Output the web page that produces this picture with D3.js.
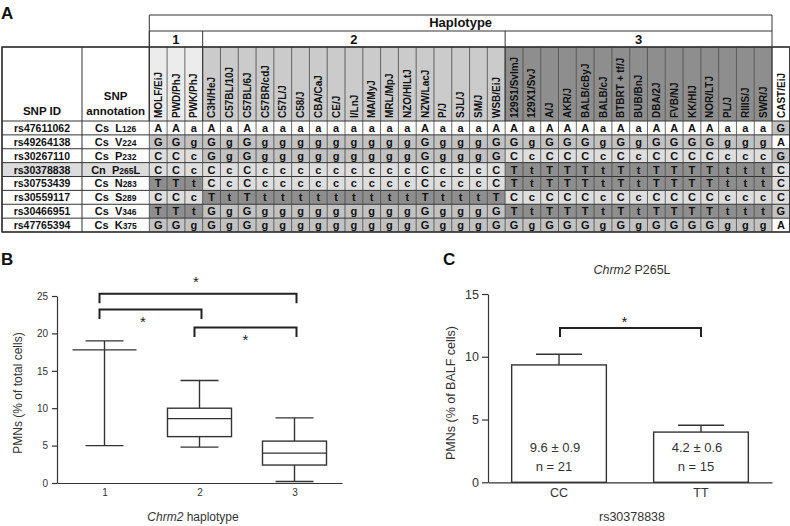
<!DOCTYPE html>
<html><head><meta charset="utf-8">
<script src="https://cdn.jsdelivr.net/npm/d3@7"></script>
<style>body{margin:0;background:#fff}svg{display:block;font-family:"Liberation Sans",Arial,Helvetica,sans-serif}</style>
</head><body><svg id="c" width="790" height="526"></svg>
<script>
// ---------- Panel A data ----------
const haplotype1 = ["MOLF/EiJ","PWD/PhJ","PWK/PhJ"];
const haplotype2 = ["C3H/HeJ","C57BL/10J","C57BL/6J","C57BR/cdJ","C57L/J","C58/J","CBA/CaJ","CE/J","I/LnJ","MA/MyJ","MRL/MpJ","NZO/HlLtJ","NZW/LacJ","P/J","SJL/J","SM/J","WSB/EiJ"];
const haplotype3 = ["129S1/SvImJ","129X1/SvJ","A/J","AKR/J","BALB/cByJ","BALB/cJ","BTBRT + tf/J","BUB/BnJ","DBA/2J","FVB/NJ","KK/HlJ","NOR/LTJ","PL/J","RIIIS/J","SWR/J"];
const outgroup = ["CAST/EiJ"];
const haplotypeLabels = ["1","2","3"];
const snpIds = ["rs47611062","rs49264138","rs30267110","rs30378838","rs30753439","rs30559117","rs30466951","rs47765394"];
const snpClass = ["Cs","Cs","Cs","Cn","Cs","Cs","Cs","Cs"];
const snpResidue = ["L","V","P","P","N","S","V","K"];
const snpPosition = ["126","224","232","265","283","289","346","375"];
const snpChange = ["","","","L","","","",""];
// one string per SNP: haplotype 1 | haplotype 2 | haplotype 3 | CAST
const genotypes = [
  "AAa AaAaaaaaaaaaAaaaA AaAAAaAaAAAAaaa G",
  "GGg GgGgggggggggGgggG GgGGGgGgGGGGggg A",
  "CCc GgGgggggggggGgggG CcCCCcCcCCCCccc G",
  "CCc CcCcccccccccCcccC TtTTTtTtTTTTttt C",
  "TTt CcCcccccccccCcccC TtTTTtTtTTTTttt C",
  "CCc TtTtttttttttTtttT CcCCCcCcCCCCccc C",
  "TTt GgGgggggggggGgggG TtTTTtTtTTTTttt G",
  "GGg GgGgggggggggGgggG GgGGGgGgGGGGggg A"
];

// ---------- Panel B data ----------
const haploCats = ["1","2","3"];
const boxLow  = [5.0, 4.8, 0.2];
const boxQ1   = [17.8, 6.2, 2.4];
const boxMed  = [17.8, 8.6, 4.0];
const boxQ3   = [17.8, 10.0, 5.6];
const boxHigh = [19.0, 13.7, 8.7];
const bTicks = [0,5,10,15,20,25];
const bSigFrom = ["1","1","2"];
const bSigTo   = ["3","2","3"];
const bSigLevel = [25.3, 23.2, 20.8];

// ---------- Panel C data ----------
const genoCats = ["CC","TT"];
const pmnMean = [9.35, 4.0];
const pmnErr  = [0.85, 0.55];
const meanLabels = ["9.6  \u00b1 0.9","4.2  \u00b1 0.6"];
const nLabels = ["n = 21","n = 15"];
const cTicks = [0,5,10,15];
const cSigLevel = 12.3;

const svg = d3.select("#c");
const ink = "#222";

// ================= PANEL A =================
const strains = haplotype1.concat(haplotype2, haplotype3, outgroup);
const strainGroup = haplotype1.map(()=>1).concat(haplotype2.map(()=>2), haplotype3.map(()=>3), outgroup.map(()=>0));
const xS = d3.scaleBand().domain(strains).range([149.3, 789.8]);
const yR = d3.scaleBand().domain(snpIds).range([121, 232]);
const yHap = 15, yGrp = 31, yHead = 47, yData = 121, yEnd = 232;
const xL0 = 2, xL1 = 82, xL2 = 149.3, xRight = 789.8;
const hapRight = xS("CAST/EiJ");
const headFill = {1:"#ececec", 2:"#cbcbcb", 3:"#8e8e8e", 0:"#ffffff"};
const alleleFill = {A:"#ffffff", C:"#dedede", G:"#c2c2c2", T:"#8e8e8e"};

const gA = svg.append("g");
gA.selectAll("rect.h").data(strains).join("rect")
  .attr("x", d=>xS(d)).attr("y", yHead).attr("width", xS.bandwidth()).attr("height", yData-yHead)
  .attr("fill", (d,i)=>headFill[strainGroup[i]]);
snpIds.forEach((id,r)=>{
  gA.append("rect").attr("x",xL0).attr("y",yR(id)).attr("width",xL2-xL0).attr("height",yR.bandwidth())
    .attr("fill", snpClass[r]==="Cn" ? "#dcdcdc" : "#fff");
});
const cells = [];
genotypes.forEach((s,r)=>{
  const chars = s.replace(/ /g,"").split("");
  chars.forEach((c,j)=>cells.push({id:snpIds[r], strain:strains[j], c}));
});
gA.selectAll("rect.c").data(cells).join("rect")
  .attr("x", d=>xS(d.strain)).attr("y", d=>yR(d.id)).attr("width", xS.bandwidth()).attr("height", yR.bandwidth())
  .attr("fill", d=>alleleFill[d.c.toUpperCase()]);
gA.selectAll("text.c").data(cells).join("text")
  .attr("x", d=>xS(d.strain)+xS.bandwidth()/2).attr("y", d=>yR(d.id)+yR.bandwidth()/2+4)
  .attr("text-anchor","middle").attr("font-size",11).attr("font-weight","bold").attr("fill","#111")
  .text(d=>d.c);

const gl = gA.append("g").attr("stroke","#333").attr("stroke-width",1);
[yHead].concat(snpIds.map(d=>yR(d)), [yEnd]).forEach(y=>{
  gl.append("line").attr("x1",xL0).attr("x2",xRight).attr("y1",y).attr("y2",y);
});
[xL0, xL1].forEach(x=>gl.append("line").attr("x1",x).attr("x2",x).attr("y1",yHead).attr("y2",yEnd));
strains.forEach(s=>gl.append("line").attr("x1",xS(s)).attr("x2",xS(s)).attr("y1",yHead).attr("y2",yEnd).attr("stroke-width",0.8).attr("stroke","#444"));
gl.append("line").attr("x1",xRight).attr("x2",xRight).attr("y1",yHead).attr("y2",yEnd);
[yHap, yGrp].forEach(y=>gl.append("line").attr("x1",xL2).attr("x2",hapRight).attr("y1",y).attr("y2",y));
[xL2, hapRight].forEach(x=>gl.append("line").attr("x1",x).attr("x2",x).attr("y1",yHap).attr("y2",yData));
const grpBounds = [[haplotype1[0], haplotype1[haplotype1.length-1]],[haplotype2[0], haplotype2[haplotype2.length-1]],[haplotype3[0], haplotype3[haplotype3.length-1]]];
grpBounds.forEach(([a,b],i)=>{
  const x0 = xS(a), x1 = xS(b)+xS.bandwidth();
  gl.append("line").attr("x1",x0).attr("x2",x0).attr("y1",yGrp).attr("y2",yData);
  gA.append("text").attr("x",(x0+x1)/2).attr("y",yGrp+12.5).attr("text-anchor","middle")
    .attr("font-size",13).attr("font-weight","bold").attr("fill","#111").text(haplotypeLabels[i]);
});
gA.append("text").attr("x",(xL2+hapRight)/2).attr("y",yHap+12).attr("text-anchor","middle")
  .attr("font-size",13).attr("font-weight","bold").attr("fill","#111").text("Haplotype");

gA.selectAll("text.s").data(strains).join("text")
  .attr("transform", d=>`translate(${xS(d)+xS.bandwidth()/2+3.6},${yData-3}) rotate(-90)`)
  .attr("font-size",10).attr("font-weight","bold").attr("fill","#111").text(d=>d);

gA.append("text").attr("x",(xL0+xL1)/2).attr("y",yData-6).attr("text-anchor","middle")
  .attr("font-size",11.5).attr("font-weight","bold").attr("fill","#111").text("SNP ID");
gA.append("text").attr("x",(xL1+xL2)/2).attr("y",yData-21).attr("text-anchor","middle")
  .attr("font-size",11.5).attr("font-weight","bold").attr("fill","#111").text("SNP");
gA.append("text").attr("x",(xL1+xL2)/2).attr("y",yData-6).attr("text-anchor","middle")
  .attr("font-size",11.5).attr("font-weight","bold").attr("fill","#111").text("annotation");

snpIds.forEach((id,r)=>{
  const yb = yR(id)+yR.bandwidth()/2+4;
  gA.append("text").attr("x",(xL0+xL1)/2).attr("y",yb).attr("text-anchor","middle")
    .attr("font-size",10.5).attr("font-weight","bold").attr("fill","#111").text(id);
  const t = gA.append("text").attr("x",(xL1+xL2)/2).attr("y",yb).attr("text-anchor","middle")
    .attr("font-weight","bold").attr("fill","#111").attr("font-size",11);
  t.append("tspan").text(snpClass[r]+"\u00a0\u00a0");
  t.append("tspan").text(snpResidue[r]);
  t.append("tspan").attr("font-size",8.5).text(snpPosition[r]);
  if (snpChange[r]) t.append("tspan").text(snpChange[r]);
});

gA.append("rect").attr("x",xL0).attr("y",yHead).attr("width",xRight-xL0).attr("height",yEnd-yHead)
  .attr("fill","none").attr("stroke","#333").attr("stroke-width",1.4);

[["A",1,19],["B",1,265],["C",443,265]].forEach(([t,x,y])=>{
  svg.append("text").attr("x",x).attr("y",y).attr("font-size",17).attr("font-weight","bold").attr("fill","#111").text(t);
});

// ================= PANEL B =================
const gB = svg.append("g");
const xB = d3.scalePoint().domain(haploCats).range([57,342]).padding(0.5);
const yB = d3.scaleLinear().domain([0,25]).range([483,296]);
const axB = gB.append("g").attr("transform","translate(57,0)")
  .call(d3.axisLeft(yB).tickValues(bTicks).tickSize(5).tickSizeOuter(0).tickPadding(4));
const axBx = gB.append("g").attr("transform","translate(0,483)")
  .call(d3.axisBottom(xB).tickSize(0).tickPadding(6));
[axB, axBx].forEach(a=>{
  a.selectAll("path,line").attr("stroke","#333").attr("stroke-width",1.2);
  a.selectAll("text").attr("font-size",10).attr("fill","#333").attr("font-family","Liberation Sans, Arial, sans-serif");
});
const boxW = 64, capW = 38;
haploCats.forEach((c,i)=>{
  const cx = xB(c);
  const g = gB.append("g").attr("stroke","#333").attr("stroke-width",1.4).attr("fill","none");
  g.append("line").attr("x1",cx).attr("x2",cx).attr("y1",yB(boxHigh[i])).attr("y2",yB(boxQ3[i]));
  g.append("line").attr("x1",cx).attr("x2",cx).attr("y1",yB(boxQ1[i])).attr("y2",yB(boxLow[i]));
  g.append("line").attr("x1",cx-capW/2).attr("x2",cx+capW/2).attr("y1",yB(boxHigh[i])).attr("y2",yB(boxHigh[i]));
  g.append("line").attr("x1",cx-capW/2).attr("x2",cx+capW/2).attr("y1",yB(boxLow[i])).attr("y2",yB(boxLow[i]));
  g.append("rect").attr("x",cx-boxW/2).attr("width",boxW).attr("y",yB(boxQ3[i])).attr("height",yB(boxQ1[i])-yB(boxQ3[i]));
  g.append("line").attr("x1",cx-boxW/2).attr("x2",cx+boxW/2).attr("y1",yB(boxMed[i])).attr("y2",yB(boxMed[i]));
});
const starPos = [[-2,-7],[-7.5,18],[0,18]];
bSigLevel.forEach((lv,i)=>{
  const x0 = xB(bSigFrom[i])-5, x1 = xB(bSigTo[i])+2;
  const y = yB(lv), y2 = y+9.5;
  gB.append("path").attr("d",`M${x0},${y2}V${y}H${x1}V${y2}`)
    .attr("fill","none").attr("stroke",ink).attr("stroke-width",2);
  gB.append("text").attr("x",(x0+x1)/2+starPos[i][0]).attr("y",y+starPos[i][1]).attr("text-anchor","middle")
    .attr("font-size",15).attr("fill",ink).text("*");
});
gB.append("text").attr("transform","translate(22,393) rotate(-90)").attr("text-anchor","middle")
  .attr("font-size",12).attr("fill","#333").text("PMNs (% of total cells)");
const xlB = gB.append("text").attr("x",193).attr("y",521).attr("text-anchor","middle")
  .attr("font-size",12).attr("fill","#333");
xlB.append("tspan").attr("font-style","italic").text("Chrm2");
xlB.append("tspan").text(" haplotype");

// ================= PANEL C =================
const gC = svg.append("g");
const xC = d3.scaleBand().domain(genoCats).range([488,772]).paddingInner(0.333).paddingOuter(0.1667);
const yC = d3.scaleLinear().domain([0,15]).range([482.3,294]);
gC.selectAll("rect.bar").data(genoCats).join("rect")
  .attr("x", d=>xC(d)).attr("width", xC.bandwidth())
  .attr("y", (d,i)=>yC(pmnMean[i])).attr("height", (d,i)=>yC(0)-yC(pmnMean[i]))
  .attr("fill","#fff").attr("stroke","#333").attr("stroke-width",1.4);
genoCats.forEach((c,i)=>{
  const cx = xC(c)+xC.bandwidth()/2;
  const g = gC.append("g").attr("stroke","#333").attr("stroke-width",1.4);
  g.append("line").attr("x1",cx).attr("x2",cx).attr("y1",yC(pmnMean[i])).attr("y2",yC(pmnMean[i]+pmnErr[i]));
  g.append("line").attr("x1",cx-23).attr("x2",cx+23).attr("y1",yC(pmnMean[i]+pmnErr[i])).attr("y2",yC(pmnMean[i]+pmnErr[i]));
  gC.append("text").attr("x",cx-4).attr("y",452).attr("text-anchor","middle").attr("font-size",13).attr("fill","#333").text(meanLabels[i]);
  gC.append("text").attr("x",cx-5).attr("y",470.5).attr("text-anchor","middle").attr("font-size",13).attr("fill","#333").text(nLabels[i]);
});
const axC = gC.append("g").attr("transform","translate(488,0)")
  .call(d3.axisLeft(yC).tickValues(cTicks).tickSize(6).tickSizeOuter(0).tickPadding(3));
const axCx = gC.append("g").attr("transform","translate(0,482.3)")
  .call(d3.axisBottom(xC).tickSize(0).tickPadding(6));
[axC, axCx].forEach(a=>{
  a.selectAll("path,line").attr("stroke","#333").attr("stroke-width",1.2);
  a.selectAll("text").attr("font-size",12.5).attr("fill","#333").attr("font-family","Liberation Sans, Arial, sans-serif");
});
{
  const x0 = xC("CC")+xC.bandwidth()/2+1, x1 = xC("TT")+xC.bandwidth()/2;
  const y = yC(cSigLevel), y2 = y+9;
  gC.append("path").attr("d",`M${x0},${y2}V${y}H${x1}V${y2}`).attr("fill","none").attr("stroke",ink).attr("stroke-width",2);
  gC.append("text").attr("x",(x0+x1)/2-6).attr("y",y-1).attr("text-anchor","middle").attr("font-size",15).attr("fill",ink).text("*");
}
gC.append("text").attr("transform","translate(455,393) rotate(-90)").attr("text-anchor","middle")
  .attr("font-size",12.5).attr("fill","#333").text("PMNs (% of BALF cells)");
gC.append("text").attr("x",632).attr("y",521).attr("text-anchor","middle").attr("font-size",12.5).attr("fill","#333").text("rs30378838");
const tC = gC.append("text").attr("x",632).attr("y",274).attr("text-anchor","middle").attr("font-size",12.5).attr("fill","#333");
tC.append("tspan").attr("font-style","italic").text("Chrm2");
tC.append("tspan").text(" P265L");
</script></body></html>
